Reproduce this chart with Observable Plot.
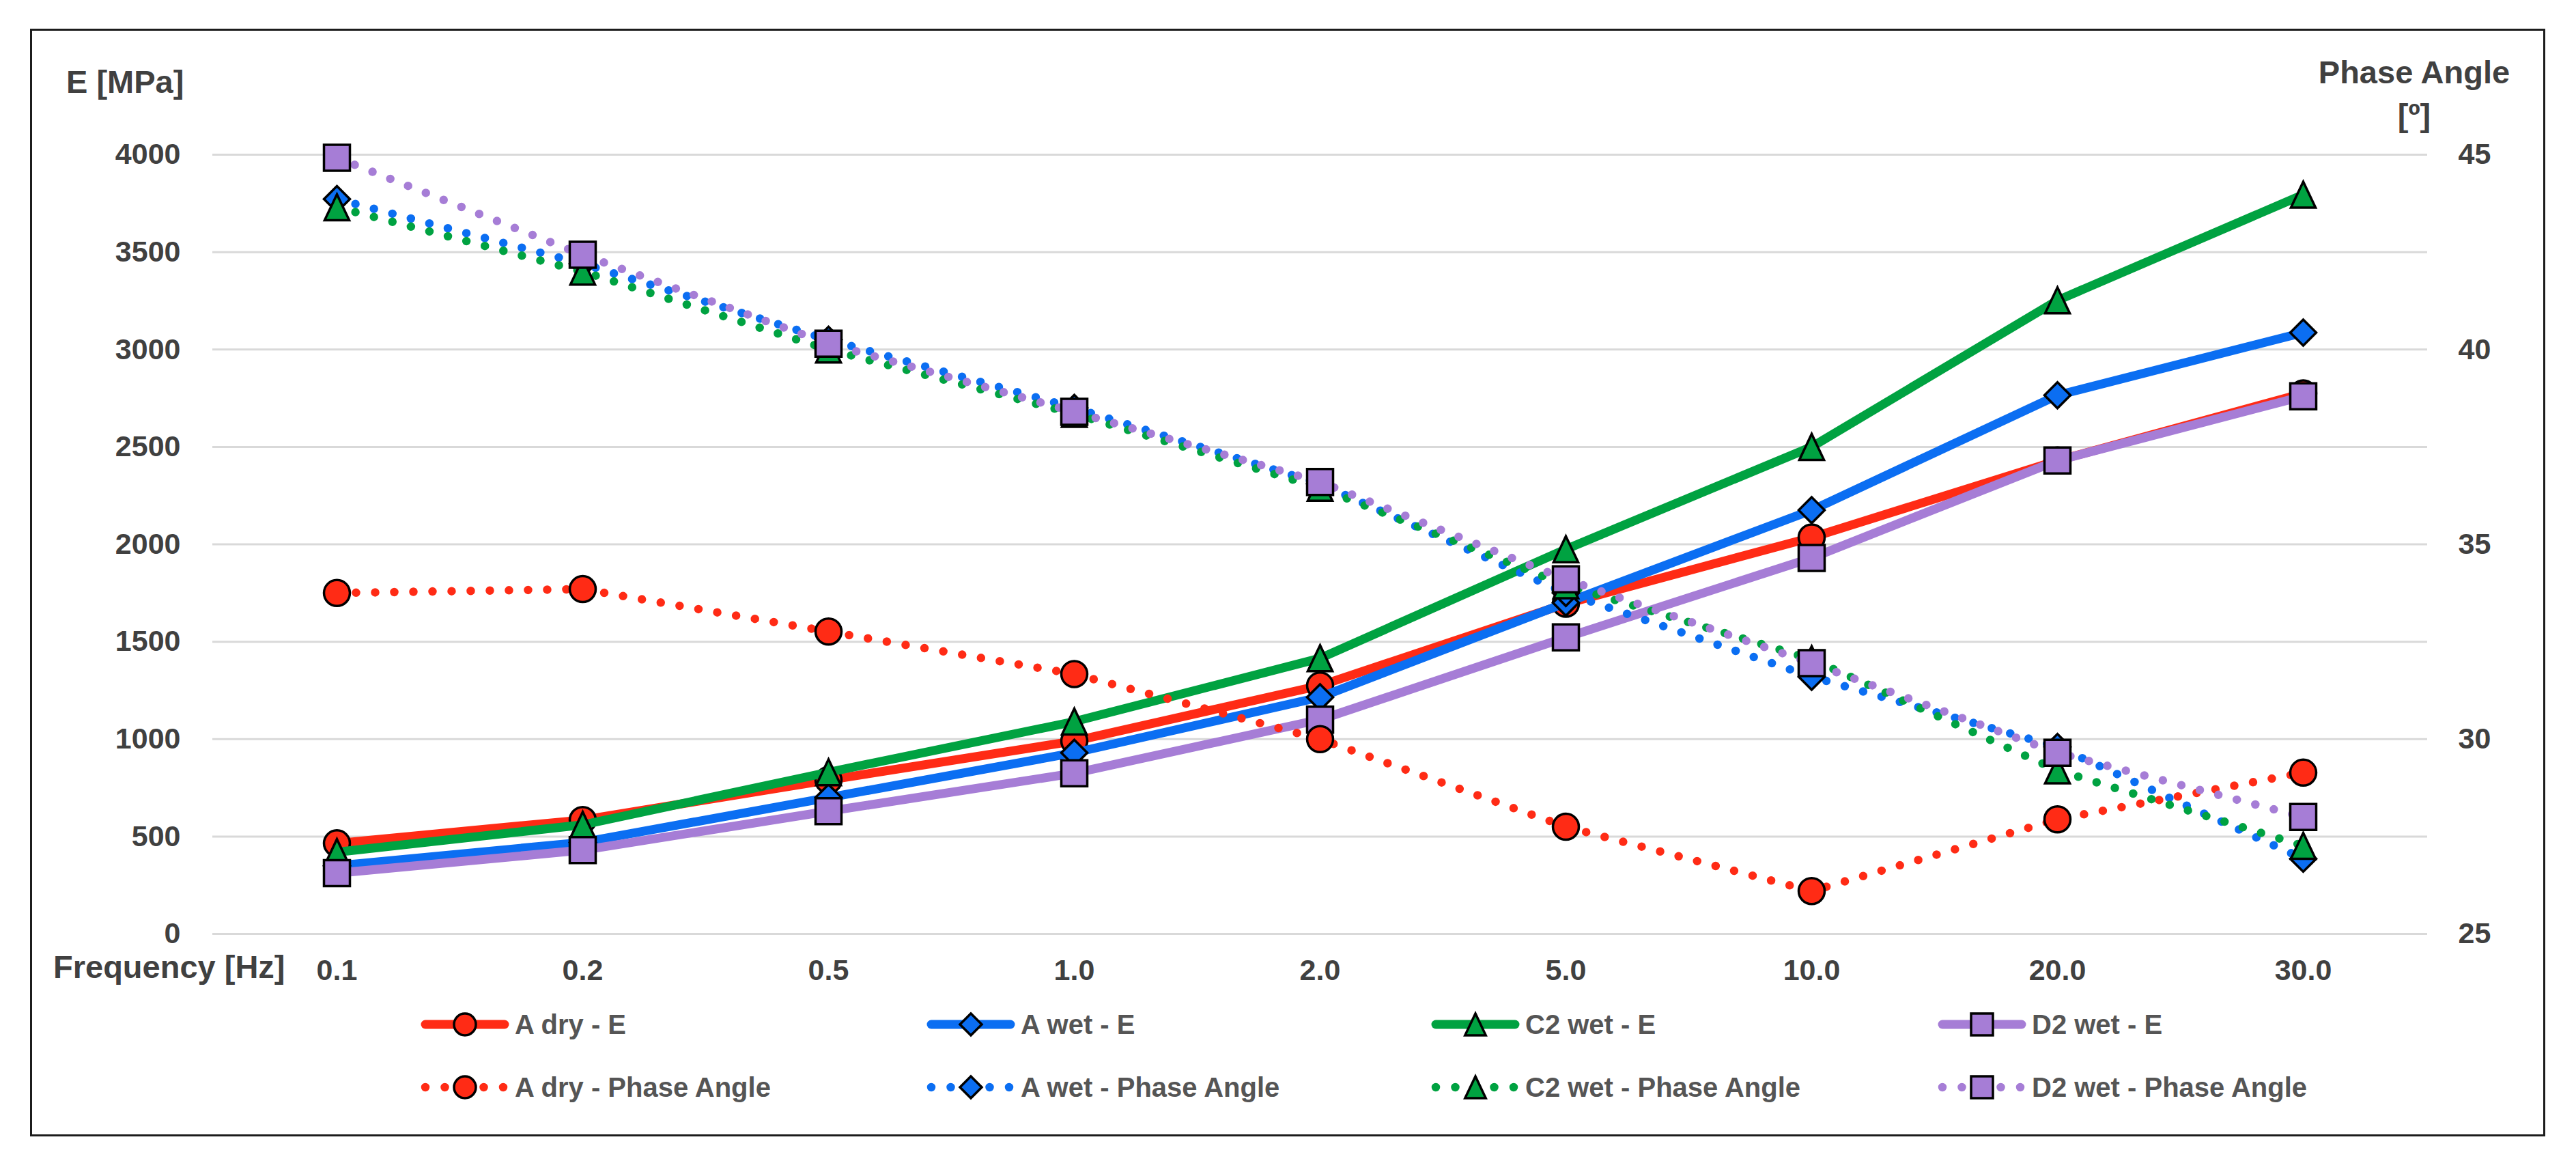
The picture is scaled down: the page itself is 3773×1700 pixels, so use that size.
<!DOCTYPE html>
<html>
<head>
<meta charset="utf-8">
<script src="https://cdn.jsdelivr.net/npm/d3@7"></script>
<script src="https://cdn.jsdelivr.net/npm/@observablehq/plot@0.6"></script>
<style>
  html, body { margin: 0; padding: 0; background: #ffffff; }
  body { width: 3773px; height: 1700px; position: relative; overflow: hidden;
         font-family: "Liberation Sans", Arial, Helvetica, sans-serif; }
  #chart { position: absolute; left: 0; top: 0; }
  #frame { position: absolute; left: 44px; top: 42px; width: 3678px; height: 1616px;
           border: 3.5px solid #1c1c1c; pointer-events: none; }
  .title { position: absolute; font-weight: bold; font-size: 47px; color: #404040;
           line-height: 1; white-space: nowrap; }
  #phaseTitle { line-height: 63px; text-align: center; width: 400px; }
  .leg { position: absolute; height: 40px; display: flex; align-items: center; }
  .leg span { font-weight: bold; font-size: 40px; color: #555555; line-height: 1;
              white-space: nowrap; margin-left: 7px; }
</style>
</head>
<body>
<div id="chart"></div>
<div id="frame"></div>
<div class="title" id="eTitle" style="left:97px; top:96px;">E [MPa]</div>
<div class="title" id="phaseTitle" style="left:3336px; top:74px;">Phase Angle<br>[º]</div>
<div class="title" id="freqTitle" style="left:78px; top:1392px;">Frequency [Hz]</div>
<div id="legend"></div>
<script>
// ---------- data ----------
const freqLabels = ["0.1", "0.2", "0.5", "1.0", "2.0", "5.0", "10.0", "20.0", "30.0"];

const aDryE  = [465, 585, 790, 990, 1275, 1695, 2035, 2430, 2775];
const aWetE  = [350, 470, 700, 930, 1215, 1700, 2175, 2765, 3087];
const c2WetE = [420, 560, 830, 1090, 1415, 1975, 2500, 3252, 3795];
const d2WetE = [312, 430, 630, 825, 1100, 1522, 1930, 2430, 2760];

const aDryPhase  = [33.75, 33.85, 32.76, 31.67, 30.0, 27.75, 26.1, 27.94, 29.14];
const aWetPhase  = [43.86, 42.2, 40.25, 38.5, 36.55, 33.75, 31.6, 29.8, 26.93];
const c2WetPhase = [43.65, 42.0, 40.0, 38.35, 36.45, 33.95, 32.05, 29.2, 27.26];
const d2WetPhase = [44.92, 42.43, 40.15, 38.4, 36.6, 34.1, 31.95, 29.65, 28.0];

const eTicks = [0, 500, 1000, 1500, 2000, 2500, 3000, 3500, 4000];
const phaseTicks = [25, 30, 35, 40, 45];

const seriesNames = ["A dry", "A wet", "C2 wet", "D2 wet"];
const seriesColors = ["#ff2b15", "#0b6ef2", "#00a241", "#a67dd6"];

// ---------- symbols (Excel-like markers, bbox-centred) ----------
const sym = {
  circle: { draw(c, s) { const h = Math.sqrt(s / Math.PI); c.moveTo(h, 0); c.arc(0, 0, h, 0, 2 * Math.PI); c.closePath(); } },
  diamond: { draw(c, s) { const h = Math.sqrt(s / Math.PI); c.moveTo(0, -h); c.lineTo(h, 0); c.lineTo(0, h); c.lineTo(-h, 0); c.closePath(); } },
  triangle: { draw(c, s) { const h = Math.sqrt(s / Math.PI); c.moveTo(0, -h); c.lineTo(h * 0.95, h); c.lineTo(-h * 0.95, h); c.closePath(); } },
  square: { draw(c, s) { const h = Math.sqrt(s / Math.PI); c.moveTo(-h, -h); c.lineTo(h, -h); c.lineTo(h, h); c.lineTo(-h, h); c.closePath(); } }
};
const seriesSymbols = [sym.circle, sym.diamond, sym.triangle, sym.square];

// secondary axis: phase [25,45] shares the frame with E [0,4000]
const phaseToE = d3.scaleLinear()
  .domain([phaseTicks[0], phaseTicks[phaseTicks.length - 1]])
  .range([eTicks[0], eTicks[eTicks.length - 1]]);

const eSeries = [aDryE, aWetE, c2WetE, d2WetE];
const phaseSeries = [aDryPhase, aWetPhase, c2WetPhase, d2WetPhase];

const rows = (vals, conv = (v) => v) => freqLabels.map((f, i) => ({ f, v: conv(vals[i]) }));

const marks = [
  Plot.gridY(eTicks, { stroke: "#d9d9d9", strokeOpacity: 1, strokeWidth: 3 }),
  Plot.axisY({ anchor: "left", ticks: eTicks, tickSize: 0, tickPadding: 47, label: null,
               tickFormat: (d) => String(d),
               fontSize: 43, fontWeight: "bold", fill: "#404040" }),
  Plot.axisY({ anchor: "right", ticks: phaseTicks.map((p) => phaseToE(p)), tickSize: 0, tickPadding: 45,
               tickFormat: (d) => String(Math.round(phaseToE.invert(d))), label: null,
               fontSize: 43, fontWeight: "bold", fill: "#404040" }),
  Plot.axisX({ anchor: "bottom", tickSize: 0, tickPadding: 37, label: null,
               fontSize: 43, fontWeight: "bold", fill: "#404040" })
];

eSeries.forEach((vals, k) => {
  const data = rows(vals);
  marks.push(Plot.line(data, { x: "f", y: "v", stroke: seriesColors[k], strokeWidth: 13,
                               strokeLinejoin: "round", strokeLinecap: "butt" }));
  marks.push(Plot.dot(data, { x: "f", y: "v", symbol: seriesSymbols[k], r: 19,
                              fill: seriesColors[k], fillOpacity: 1, stroke: "#000", strokeWidth: 3.5 }));
});
phaseSeries.forEach((vals, k) => {
  const data = rows(vals, phaseToE);
  marks.push(Plot.line(data, { x: "f", y: "v", stroke: seriesColors[k], strokeWidth: 12.5,
                               strokeDasharray: "0 28", strokeLinecap: "round", strokeLinejoin: "round" }));
  marks.push(Plot.dot(data, { x: "f", y: "v", symbol: seriesSymbols[k], r: 19,
                              fill: seriesColors[k], fillOpacity: 1, stroke: "#000", strokeWidth: 3.5 }));
});

const chart = Plot.plot({
  width: 3773,
  height: 1460,
  marginLeft: 311,
  marginRight: 218,
  marginTop: 226,
  marginBottom: 93,
  style: { background: "transparent", overflow: "visible",
           fontFamily: "'Liberation Sans', Arial, Helvetica, sans-serif", color: "#404040" },
  x: { type: "point", domain: freqLabels, padding: 0.5, axis: null },
  y: { domain: [eTicks[0], eTicks[eTicks.length - 1]], axis: null },
  marks
});
document.getElementById("chart").appendChild(chart);

// ---------- legend ----------
const legend = document.getElementById("legend");
const legCols = [617, 1358, 2097, 2839];
const legRows = [1500, 1592];
function swatch(k, dotted) {
  const ns = "http://www.w3.org/2000/svg";
  const svg = document.createElementNS(ns, "svg");
  svg.setAttribute("width", 130); svg.setAttribute("height", 40);
  svg.style.overflow = "visible";
  const line = document.createElementNS(ns, "line");
  line.setAttribute("x1", 6); line.setAttribute("x2", 122);
  line.setAttribute("y1", 20); line.setAttribute("y2", 20);
  line.setAttribute("stroke", seriesColors[k]);
  line.setAttribute("stroke-linecap", "round");
  if (dotted) { line.setAttribute("stroke-width", 12.5); line.setAttribute("stroke-dasharray", "0 28.5"); }
  else { line.setAttribute("stroke-width", 13); }
  svg.appendChild(line);
  const p = d3.path();
  seriesSymbols[k].draw(p, 16 * 16 * Math.PI);
  const path = document.createElementNS(ns, "path");
  path.setAttribute("d", p.toString());
  path.setAttribute("transform", "translate(64,20)");
  path.setAttribute("fill", seriesColors[k]);
  path.setAttribute("stroke", "#000"); path.setAttribute("stroke-width", 3.5);
  svg.appendChild(path);
  return svg;
}
seriesNames.forEach((name, k) => {
  [false, true].forEach((dotted, r) => {
    const item = document.createElement("div");
    item.className = "leg";
    item.style.left = legCols[k] + "px";
    item.style.top = (legRows[r] - 20) + "px";
    item.appendChild(swatch(k, dotted));
    const t = document.createElement("span");
    t.textContent = name + (dotted ? " - Phase Angle" : " - E");
    item.appendChild(t);
    legend.appendChild(item);
  });
});
</script>
</body>
</html>
